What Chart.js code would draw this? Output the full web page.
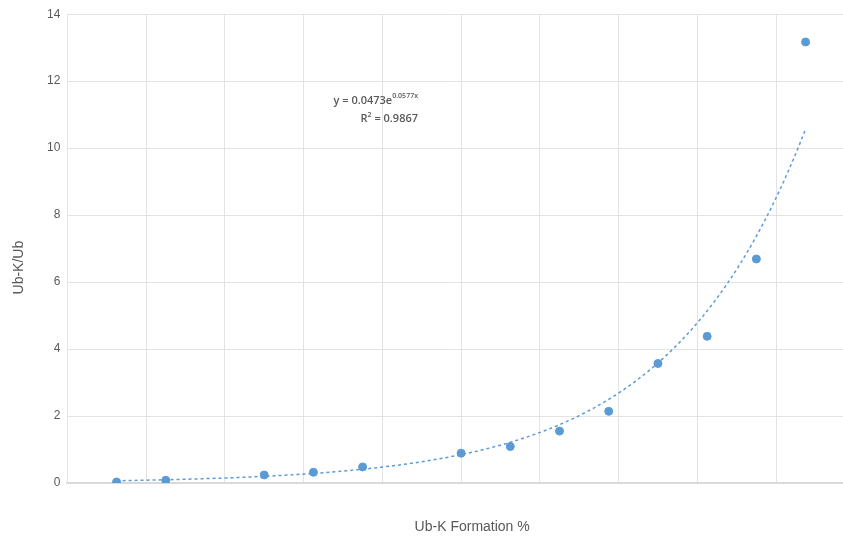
<!DOCTYPE html>
<html>
<head>
<meta charset="utf-8">
<script src="https://cdn.jsdelivr.net/npm/chart.js@4/dist/chart.umd.min.js"></script>
<style>
  html, body { margin: 0; padding: 0; background: #fff; }
  #wrap { width: 843px; height: 540px; }
</style>
</head>
<body>
<div id="wrap"><canvas id="c" width="843" height="540"></canvas></div>
<script>
// Measured ubiquitin-K formation (%) and the Ub-K/Ub ratio
const formationPct = [6.25, 12.5, 25, 31.25, 37.5, 50, 56.25, 62.5, 68.75, 75, 81.25, 87.5, 93.75];
const ratioValues  = [0.03, 0.08, 0.24, 0.32, 0.48, 0.89, 1.09, 1.55, 2.14, 3.57, 4.38, 6.69, 13.17];

// Exponential fit y = a·e^(b·x), as printed on the chart
const fitA = 0.0473;
const fitB = 0.0577;
const fitR2 = 0.9867;

// y-axis tick values
const yTicks = [0, 2, 4, 6, 8, 10, 12, 14];

const xTitle = 'Ub-K Formation %';
const yTitle = 'Ub-K/Ub';

const blue = '#5b9bd5';
const grey = '#595959';
const gridGrey = '#e3e3e3';
const titleFont = '14px "Liberation Sans", Arial, sans-serif';

const points = formationPct.map((x, i) => ({ x, y: ratioValues[i] }));

// Sample the fitted curve across the measured range
const xFirst = formationPct[0], xLast = formationPct[formationPct.length - 1];
const trend = [];
for (let i = 0; i <= 120; i++) {
  const x = xFirst + (xLast - xFirst) * i / 120;
  trend.push({ x, y: fitA * Math.exp(fitB * x) });
}

// Axis titles, placed in the margins around the plot
const axisTitles = {
  id: 'axisTitles',
  afterDraw(chart) {
    const { ctx, chartArea: a } = chart;
    ctx.save();
    ctx.fillStyle = grey;
    ctx.font = titleFont;
    ctx.textAlign = 'center';
    ctx.textBaseline = 'middle';
    ctx.fillText(xTitle, (a.left + a.right) / 2 + 17, a.bottom + 44);
    ctx.translate(19, (a.top + a.bottom) / 2 + 19);
    ctx.rotate(-Math.PI / 2);
    ctx.fillText(yTitle, 0, 0);
    ctx.restore();
  }
};

// Equation label drawn inside the plot
const equationLabel = {
  id: 'equationLabel',
  afterDatasetsDraw(chart) {
    const { ctx, scales } = chart;
    const left = scales.x.getPixelForValue(33.8);
    const y1 = scales.y.getPixelForValue(11.42);
    const y2 = scales.y.getPixelForValue(10.88);
    const big = '600 11px "Open Sans"';
    const small = '600 7px "Open Sans"';
    ctx.save();
    ctx.fillStyle = grey;
    ctx.textBaseline = 'middle';
    ctx.textAlign = 'left';
    const main = 'y = ' + fitA + 'e';
    ctx.font = big;
    const wMain = ctx.measureText(main).width;
    ctx.fillText(main, left, y1);
    ctx.font = small;
    ctx.fillText(fitB + 'x', left + wMain, y1 - 5);
    // R² line
    const l2 = left + 27;
    ctx.font = big;
    const wR = ctx.measureText('R').width;
    ctx.fillText('R', l2, y2);
    ctx.font = small;
    const w2 = ctx.measureText('2').width;
    ctx.fillText('2', l2 + wR, y2 - 4);
    ctx.font = big;
    ctx.fillText(' = ' + fitR2.toFixed(4), l2 + wR + w2, y2);
    ctx.restore();
  }
};

new Chart(document.getElementById('c'), {
  type: 'scatter',
  data: {
    datasets: [
      {
        label: yTitle,
        data: points,
        backgroundColor: blue,
        borderColor: blue,
        pointRadius: 4,
        pointHoverRadius: 4,
        order: 1
      },
      {
        label: 'Expon. fit',
        type: 'line',
        data: trend,
        borderColor: blue,
        borderWidth: 1.5,
        borderDash: [3, 3],
        pointRadius: 0,
        fill: false,
        tension: 0,
        order: 2
      }
    ]
  },
  options: {
    responsive: false,
    animation: false,
    events: [],
    layout: { autoPadding: false, padding: { top: 8, right: 0, bottom: 57, left: 40 } },
    plugins: {
      legend: { display: false },
      tooltip: { enabled: false }
    },
    scales: {
      x: {
        type: 'linear',
        min: 0,
        max: 98.5,
        ticks: { display: false, stepSize: 10 },
        grid: {
          drawTicks: false,
          color: (c) => (c.tick && c.tick.value % 10 === 0 && c.tick.value > 0) ? gridGrey : 'rgba(0,0,0,0)',
          lineWidth: 1
        },
        border: { color: '#d9d9d9', width: 2 },
        title: { display: false }
      },
      y: {
        min: 0,
        max: 14,
        afterBuildTicks: (axis) => { axis.ticks = yTicks.map(v => ({ value: v })); },
        ticks: {
          color: grey,
          font: { family: '"Liberation Sans", Arial, sans-serif', size: 12 },
          padding: 7
        },
        grid: { drawTicks: false, color: gridGrey, lineWidth: 1 },
        border: { color: gridGrey, width: 1 },
        title: { display: false }
      }
    }
  },
  plugins: [equationLabel, axisTitles]
});
</script>
</body>
</html>
